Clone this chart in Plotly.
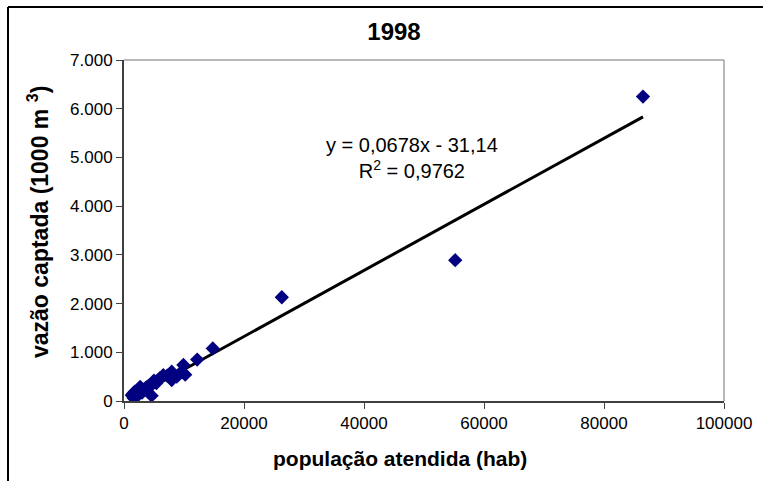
import plotly.graph_objects as go

# Data
populacao = [86500, 55200, 26300, 14800, 12200, 9900, 10200, 9600, 8800, 7950,
             7950, 6550, 6000, 5700, 5400, 4600, 4600, 4000, 3200, 2700,
             2300, 1800, 2100, 1300, 1600, 3700, 5000, 7200, 3000, 1500, 2500]
vazao = [6250, 2890, 2130, 1080, 850, 740, 540, 600, 500, 600,
         430, 530, 470, 430, 370, 330, 110, 300, 230, 290,
         220, 190, 90, 120, 60, 280, 420, 520, 170, 150, 250]

slope = 0.0678
intercept = -31.14
trend_x = [min(populacao), max(populacao)]
trend_y = [slope * v + intercept for v in trend_x]

FONT = "Liberation Sans, Arial, sans-serif"

fig = go.Figure()
fig.add_trace(go.Scatter(x=trend_x, y=trend_y, mode="lines",
                         line=dict(color="black", width=3), showlegend=False,
                         hoverinfo="skip"))
fig.add_trace(go.Scatter(x=populacao, y=vazao, mode="markers",
                         marker=dict(symbol="diamond", size=11, color="#000080",
                                     line=dict(width=0)),
                         showlegend=False))

fig.update_layout(
    width=763, height=481,
    margin=dict(l=124, r=39, t=60, b=80),
    paper_bgcolor="white", plot_bgcolor="white",
    separators=",.",
    font=dict(family=FONT, size=17, color="black"),
    title=dict(text="<b>1998</b>", x=(394 - 124) / 600, xref="paper", xanchor="center",
               y=1 - 32 / 481, yref="container", yanchor="middle",
               font=dict(family=FONT, size=24, color="black")),
    xaxis=dict(range=[0, 100000], tickvals=[0, 20000, 40000, 60000, 80000, 100000],
               tickformat="d", showgrid=False, zeroline=False,
               showline=True, linecolor="#404040", linewidth=2,
               ticks="outside", ticklen=6, tickcolor="#404040", tickwidth=1,
               tickfont=dict(family=FONT, size=17, color="black")),
    yaxis=dict(range=[0, 7000], dtick=1000, tickformat=",d", showgrid=False,
               zeroline=False, showline=True, linecolor="#404040", linewidth=2,
               ticks="outside", ticklen=6, tickcolor="#404040", tickwidth=1,
               tickfont=dict(family=FONT, size=17, color="black")),
    annotations=[
        dict(text="y = 0,0678x - 31,14<br>R<sup>2</sup> = 0,9762",
             x=(412 - 124) / 600, y=(401 - 158) / 341, xref="paper", yref="paper",
             showarrow=False, align="center", xanchor="center", yanchor="middle",
             font=dict(family=FONT, size=20, color="black")),
        dict(text="<b>população atendida (hab)</b>",
             x=(400 - 124) / 600, y=(401 - 458) / 341, xref="paper", yref="paper",
             showarrow=False, xanchor="center", yanchor="middle",
             font=dict(family=FONT, size=21, color="black")),
        dict(text="<b>vazão captada (1000 m <sup>3</sup>)</b>",
             x=(38 - 124) / 600, y=(401 - 222) / 341, xref="paper", yref="paper",
             showarrow=False, textangle=-90, xanchor="center", yanchor="middle",
             font=dict(family=FONT, size=23, color="black")),
    ],
    shapes=[
        # plot-area top and right border (light gray)
        dict(type="line", xref="paper", yref="paper", x0=0, x1=1, y0=1, y1=1,
             line=dict(color="#a0a0a0", width=1.5)),
        dict(type="line", xref="paper", yref="paper", x0=1, x1=1, y0=0, y1=1,
             line=dict(color="#a0a0a0", width=1.5)),
        # outer chart border (left and top visible)
        dict(type="line", xref="paper", yref="paper", x0=(8 - 124) / 600, x1=1.2,
             y0=(401 - 7) / 341, y1=(401 - 7) / 341,
             line=dict(color="black", width=2)),
        dict(type="line", xref="paper", yref="paper", x0=(8 - 124) / 600,
             x1=(8 - 124) / 600, y0=-0.4, y1=(401 - 7) / 341,
             line=dict(color="black", width=2)),
    ],
)

fig.write_html("out.html")
